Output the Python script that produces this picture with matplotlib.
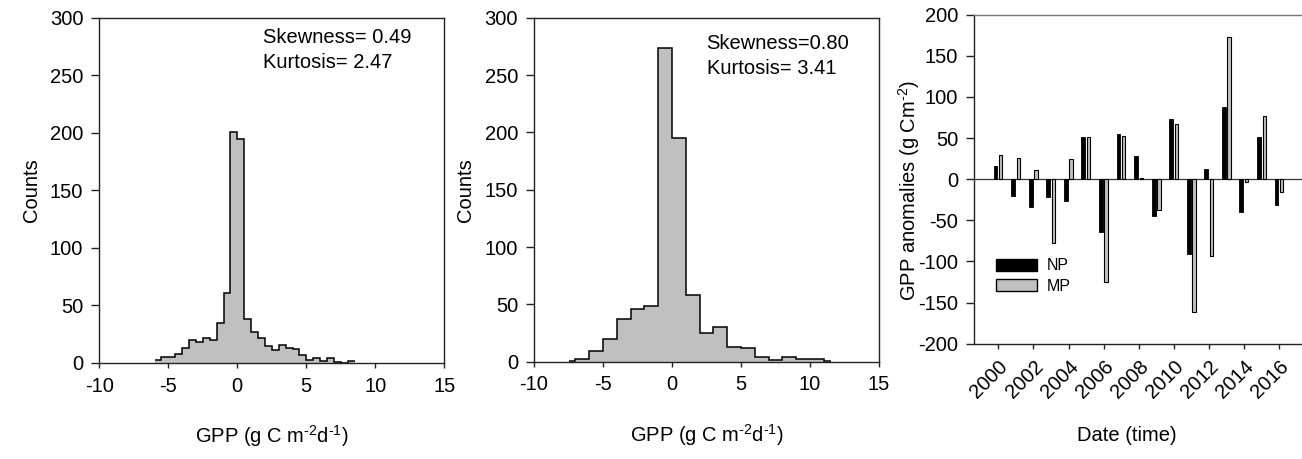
import numpy as np
import matplotlib
matplotlib.use('Agg')
import matplotlib.pyplot as plt
from matplotlib.patches import Patch

plt.rcParams['font.family'] = ['Liberation Sans', 'DejaVu Sans']
plt.rcParams['mathtext.fontset'] = 'custom'
plt.rcParams['mathtext.rm'] = 'Liberation Sans'
plt.rcParams['mathtext.it'] = 'Liberation Sans'
plt.rcParams['axes.unicode_minus'] = False

# histogramas (contagens)
hist1_edges = [-6.0 + 0.5 * i for i in range(30)]
hist1_counts = [3, 5, 5, 8, 13, 20, 18, 22, 20, 35, 61, 201, 195, 38, 27,
                22, 15, 11, 16, 13, 12, 7, 3, 4, 2, 4, 1, 0, 2]
hist2_edges = [-7.5] + list(range(-7, 12)) + [11.5]
hist2_counts = [0.5, 2, 9, 20, 37, 46, 49, 274, 195, 58, 25, 30, 13, 12,
                4, 1.5, 4, 2.5, 2, 0.5]
stats1 = ['Skewness= 0.49', 'Kurtosis= 2.47']
stats2 = ['Skewness=0.80', 'Kurtosis= 3.41']

# anomalias anuais
years = list(range(2000, 2017))
np_anom = [16, -20, -34, -22, -27, 51, -64, 55, 28, -45, 73, -91, 13, 88, -40, 51, -31]
mp_anom = [30, 26, 11, -78, 25, 51, -125, 53, 2, -38, 67, -161, -93, 173, -3, 77, -15]

W, H = 1302, 459
fig = plt.figure(figsize=(W / 100, H / 100), dpi=100)

def box(l, r, t, b):
    return [l / W, 1 - b / H, (r - l) / W, (b - t) / H]

FS = 14.5
spine_c = '#222222'

def style(ax):
    for s in ax.spines.values():
        s.set_color(spine_c)
        s.set_linewidth(1.0)
    ax.tick_params(axis='y', direction='out', length=5.5, width=1, pad=6,
                   labelsize=FS, color=spine_c)
    ax.tick_params(axis='x', direction='out', length=3.8, width=1, pad=6,
                   labelsize=FS, color=spine_c)

hists = [
    (box(99.3, 444.3, 17.7, 363), hist1_edges, hist1_counts, stats1, 1.88, [277.8, 256]),
    (box(534, 879, 17.7, 361.7), hist2_edges, hist2_counts, stats2, 2.51, [272.5, 250.7]),
]
for pos, edges, counts, stats, tx, ty in hists:
    ax = fig.add_axes(pos)
    ax.stairs(counts, edges, fill=True, facecolor='#c0c0c0', edgecolor='none')
    ax.stairs(counts, edges, fill=False, color='black', linewidth=1.1, baseline=None)
    ax.set_xlim(-10, 15)
    ax.set_ylim(0, 300)
    ax.set_xticks([-10, -5, 0, 5, 10, 15])
    ax.set_yticks(range(0, 301, 50))
    style(ax)
    ax.set_ylabel('Counts', fontsize=FS)
    ax.yaxis.set_label_coords(-0.17, 0.5)
    ax.set_xlabel(r'GPP (g C m$^{\text{-}2}$d$^{\text{-}1}$)', fontsize=FS)
    ax.xaxis.set_label_coords(0.5, -0.175)
    for s, y in zip(stats, ty):
        ax.text(tx, y, s, fontsize=FS, va='baseline', ha='left')

# painel de barras
ax3 = fig.add_axes(box(974.3, 1302, 14.7, 343.7))
x = np.array(years)
ax3.bar(x - 0.16, np_anom, width=0.22, color='black', edgecolor='black', linewidth=0.6, label='NP')
ax3.bar(x + 0.14, mp_anom, width=0.19, color='#c0c0c0', edgecolor='black', linewidth=0.8, label='MP')
ax3.axhline(0, color='#333333', linewidth=0.9, zorder=0)
ax3.set_xlim(1998.633, 2017.29)
ax3.set_ylim(-200, 200)
ax3.set_yticks(range(-200, 201, 50))
ax3.set_xticks(years[::2])
style(ax3)
ax3.spines['right'].set_visible(False)
ax3.spines['top'].set_color('#777777')
ax3.set_xticklabels([str(y) for y in years[::2]], rotation=45, ha='right',
                    va='top', rotation_mode='anchor')
ax3.set_ylabel(r'GPP anomalies (g Cm$^{\text{-}2}$)', fontsize=FS)
ax3.yaxis.set_label_coords(-0.16, 0.465)
ax3.set_xlabel('Date (time)', fontsize=FS)
ax3.xaxis.set_label_coords(0.465, -0.25)
handles = [Patch(facecolor='black', edgecolor='black', label='NP'),
           Patch(facecolor='#c0c0c0', edgecolor='black', label='MP')]
ax3.legend(handles=handles, loc='upper left', bbox_to_anchor=(0.066, 0.26),
           frameon=False, fontsize=11.5, handlelength=2.6, handleheight=0.8,
           handletextpad=0.6, labelspacing=0.35, borderpad=0, borderaxespad=0)

fig.savefig('out.png', dpi=100)
